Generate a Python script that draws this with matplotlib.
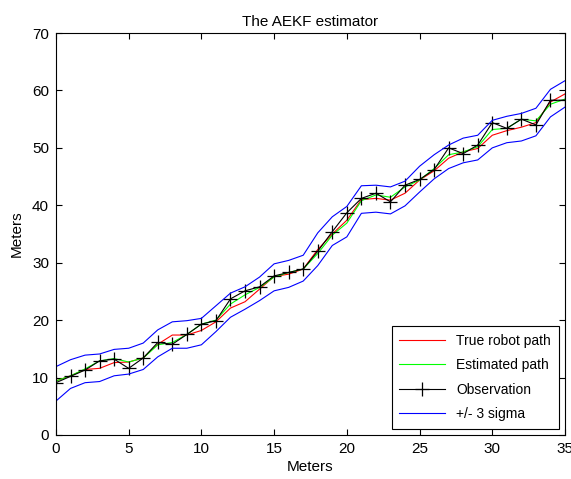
import matplotlib.pyplot as plt

plt.rcParams['font.family'] = ['Liberation Sans', 'DejaVu Sans']

# Values
x = list(range(36))

true_path = [
    9.4, 10.3, 11.4, 11.6, 12.6, 12.7, 13.4, 15.8, 17.4, 17.4,
    18.2, 19.7, 22.1, 23.2, 25.4, 27.6, 28.0, 28.9, 32.3, 35.0,
    37.4, 41.0, 41.2, 40.9, 42.1, 44.4, 46.0, 48.2, 49.3, 49.9,
    52.2, 53.0, 53.6, 54.4, 58.0, 59.4,
]

est_path = [
    9.4, 10.3, 11.5, 12.9, 13.3, 12.7, 13.4, 15.7, 16.1, 17.5,
    19.3, 20.0, 22.8, 24.4, 25.7, 27.5, 28.3, 28.9, 31.6, 34.8,
    36.9, 40.8, 41.8, 41.4, 43.2, 44.4, 46.4, 48.8, 49.3, 50.2,
    53.2, 53.4, 55.0, 54.7, 57.6, 58.5,
]

observation = [
    9.1, 10.2, 11.3, 12.9, 13.2, 11.6, 13.4, 16.1, 15.8, 17.5,
    19.3, 19.9, 23.7, 25.1, 25.8, 27.7, 28.3, 28.9, 32.0, 35.4,
    38.7, 41.2, 42.1, 40.6, 43.5, 44.5, 46.2, 50.0, 49.0, 50.5,
    54.4, 53.4, 55.0, 54.0, 58.3, 58.3,
]

upper = [
    11.9, 13.1, 13.9, 14.1, 14.9, 15.1, 16.0, 18.3, 19.7, 19.9,
    20.3, 22.5, 24.7, 25.8, 27.5, 29.8, 30.4, 31.3, 35.2, 38.0,
    39.8, 43.4, 43.5, 43.2, 44.2, 46.8, 48.8, 50.5, 51.7, 52.2,
    54.8, 55.5, 56.0, 56.9, 60.2, 61.7,
]

lower = [
    5.9, 8.1, 9.1, 9.3, 10.3, 10.6, 11.4, 13.6, 15.1, 15.1,
    15.7, 18.0, 20.5, 21.9, 23.4, 25.1, 25.7, 26.8, 29.5, 33.0,
    34.5, 38.6, 38.8, 38.5, 39.9, 42.3, 44.6, 46.4, 47.4, 47.9,
    50.0, 50.9, 51.2, 52.1, 55.4, 57.1,
]

fig = plt.figure(figsize=(5.71, 4.79), dpi=100)
ax = fig.add_axes([0.098, 0.092, 0.8915, 0.839])

ax.plot(x, true_path, color='r', lw=0.8, label='True robot path')
ax.plot(x, est_path, color=(0, 1, 0), lw=0.8, label='Estimated path')
ax.plot(x, observation, color='k', lw=0.8, marker='+', markersize=10,
        markeredgewidth=0.9, label='Observation')
ax.plot(x, upper, color='b', lw=0.8, label='+/- 3 sigma')
ax.plot(x, lower, color='b', lw=0.8)

ax.set_xlim(0, 35)
ax.set_ylim(0, 70)
ax.set_xticks(range(0, 36, 5))
ax.set_yticks(range(0, 71, 10))
ax.tick_params(direction='in', top=True, right=True, labelsize=11, length=4, pad=5)
for s in ax.spines.values():
    s.set_linewidth(0.8)

ax.set_xlabel('Meters', fontsize=11, labelpad=3)
ax.set_ylabel('Meters', fontsize=11, labelpad=6)
ax.set_title('The AEKF estimator', fontsize=11, pad=5)

leg = ax.legend(loc='lower right', fontsize=10, fancybox=False, framealpha=1,
                edgecolor='k', borderaxespad=0.45, handlelength=3.3,
                labelspacing=0.75, borderpad=0.55)
leg.get_frame().set_linewidth(0.8)

plt.savefig('out.png', dpi=100)
